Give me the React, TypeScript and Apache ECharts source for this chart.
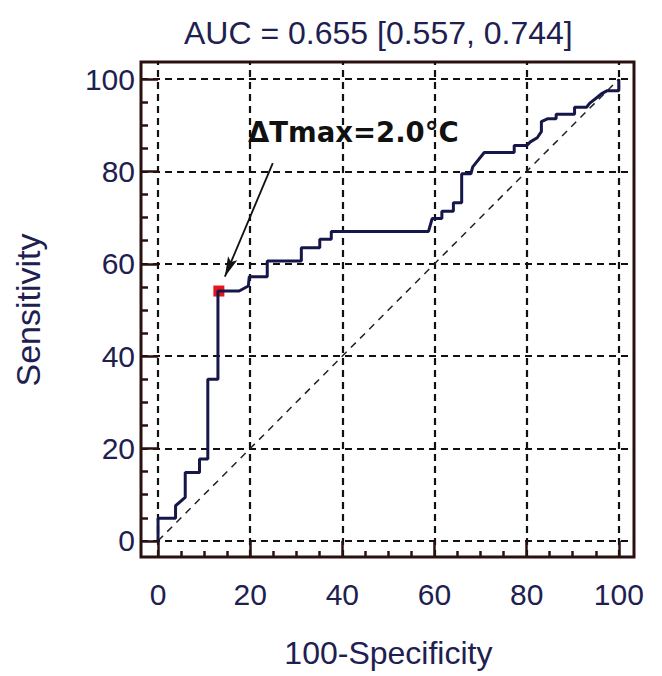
import React, { useEffect, useRef } from "react";
import * as echarts from "echarts";

// ROC curve vertices: 100-Specificity (x) and Sensitivity (y)
const fpr = [0, 0, 3.8, 3.8, 5.9, 5.9, 9.0, 9.0, 10.8, 10.8, 13.0, 13.0, 17.6, 19.6, 19.8, 23.7, 23.7, 31.1, 31.1, 35.1, 35.1, 37.6, 37.6, 58.7, 59.5, 61.6, 61.6, 64.1, 64.1, 65.9, 65.9, 67.9, 68.3, 70.8, 77.3, 77.3, 80.0, 80.8, 82.3, 83.2, 83.2, 84.5, 86.4, 86.4, 90.4, 90.4, 93.0, 93.7, 95.0, 96.2, 97.5, 100, 100];
const tpr = [0, 4.9, 4.9, 7.6, 9.4, 14.8, 14.8, 17.7, 17.7, 35.0, 35.0, 54.1, 54.1, 55.2, 57.2, 57.2, 60.6, 60.6, 63.5, 63.5, 65.3, 65.3, 67.0, 67.0, 69.8, 69.8, 71.4, 71.4, 73.2, 73.2, 79.5, 79.5, 81.0, 84.1, 84.1, 85.6, 85.6, 86.4, 87.3, 88.6, 90.8, 91.4, 91.4, 92.4, 92.4, 93.9, 93.9, 94.8, 95.8, 96.8, 97.5, 97.5, 100];
const diagX = [0, 100];
const diagY = [0, 100];
const cutoffPoint = [13.2, 54.1];
const arrowFrom = [24.9, 81.8];
const arrowTo = [14.5, 57.2];
const gridTicks = [0, 20, 40, 60, 80, 100];
const minorTicks = [5, 10, 15, 25, 30, 35, 45, 50, 55, 65, 70, 75, 85, 90, 95];
const titleText = "AUC = 0.655 [0.557, 0.744]";
const xName = "100-Specificity";
const yName = "Sensitivity";
const annotationText = "ΔTmax=2.0°C";

export default function App() {
  const ref = useRef<HTMLDivElement>(null);
  useEffect(() => {
    const chart = echarts.init(ref.current as HTMLDivElement, null, { renderer: "svg" });
    const F = { left: 141, top: 62, width: 493, height: 495 };
    const xMin = -3.7, xMax = 103.3, yMin = -3.5, yMax = 103.7;
    const px = (v: number) => F.left + ((v - xMin) / (xMax - xMin)) * F.width;
    const py = (v: number) => F.top + F.height - ((v - yMin) / (yMax - yMin)) * F.height;
    const inner = { left: px(0), top: py(100), width: px(100) - px(0), height: py(0) - py(100) };
    const xOff = F.top + F.height - (inner.top + inner.height);
    const yOff = inner.left - F.left;
    const frameColor = "#2b1010";
    const textColor = "#1e2050";
    const font = "'Liberation Sans', Arial, sans-serif";
    const xPerPx = (xMax - xMin) / F.width;
    const yPerPx = (yMax - yMin) / F.height;
    const minorLenPx = 6;

    const gridLineData: any[] = [];
    gridTicks.forEach((v) => {
      gridLineData.push([{ coord: [v, yMin] }, { coord: [v, yMax] }]);
      gridLineData.push([{ coord: [xMin, v] }, { coord: [xMax, v] }]);
    });
    const tickData: any[] = [];
    gridTicks.forEach((v) => {
      tickData.push([{ coord: [v, yMin] }, { coord: [v, 0] }]);
      tickData.push([{ coord: [xMin, v] }, { coord: [0, v] }]);
    });
    minorTicks.forEach((v) => {
      tickData.push([{ coord: [v, yMin] }, { coord: [v, yMin + minorLenPx * yPerPx] }]);
      tickData.push([{ coord: [xMin, v] }, { coord: [xMin + (minorLenPx + 1) * xPerPx, v] }]);
    });

    const option: any = {
      animation: false,
      textStyle: { fontFamily: font },
      title: {
        text: titleText,
        left: 179,
        top: 12,
        textStyle: { fontSize: 32, fontWeight: "normal", color: textColor, fontFamily: font },
      },
      grid: [
        { left: F.left, top: F.top, width: F.width, height: F.height, show: true, borderColor: frameColor, borderWidth: 3, backgroundColor: "transparent" },
        { left: inner.left, top: inner.top, width: inner.width, height: inner.height, show: false },
      ],
      xAxis: [
        { gridIndex: 0, type: "value", min: xMin, max: xMax, show: false },
        {
          gridIndex: 1, type: "value", min: 0, max: 100, interval: 20, position: "bottom", offset: xOff,
          axisLine: { show: false },
          axisTick: { show: false },
          minorTick: { show: false },
          splitLine: { show: false },
          axisLabel: { fontSize: 30, color: textColor, margin: 22, fontFamily: font },
          name: xName, nameLocation: "middle", nameGap: 80,
          nameTextStyle: { fontSize: 32, color: textColor, fontFamily: font },
        },
      ],
      yAxis: [
        { gridIndex: 0, type: "value", min: yMin, max: yMax, show: false },
        {
          gridIndex: 1, type: "value", min: 0, max: 100, interval: 20, position: "left", offset: yOff,
          axisLine: { show: false },
          axisTick: { show: false },
          minorTick: { show: false },
          splitLine: { show: false },
          axisLabel: { fontSize: 30, color: textColor, margin: 6, fontFamily: font },
          name: yName, nameLocation: "middle", nameGap: 96, nameRotate: 90,
          nameTextStyle: { fontSize: 34, color: textColor, fontFamily: font },
        },
      ],
      series: [
        {
          type: "line", xAxisIndex: 0, yAxisIndex: 0, symbol: "none", silent: true, z: 1,
          data: diagX.map((x, i) => [x, diagY[i]]),
          lineStyle: { type: [7, 6], width: 1.5, color: "#222" },
          markLine: {
            silent: true, symbol: ["none", "none"], label: { show: false },
            lineStyle: { type: [7, 5], width: 2.2, color: "#111" },
            data: gridLineData, z: 0,
          },
        },
        {
          type: "line", xAxisIndex: 0, yAxisIndex: 0, symbol: "none", silent: true, z: 2,
          data: [],
          markLine: {
            silent: true, symbol: ["none", "none"], label: { show: false },
            lineStyle: { type: "solid", width: 2.5, color: frameColor },
            data: tickData,
          },
        },
        {
          type: "line", xAxisIndex: 0, yAxisIndex: 0, symbol: "none", z: 5,
          data: fpr.map((x, i) => [x, tpr[i]]),
          lineStyle: { color: "#15174a", width: 3 },
          markPoint: {
            silent: true,
            data: [{ coord: cutoffPoint, symbol: "rect", symbolSize: 11, itemStyle: { color: "#e8141c" }, label: { show: false } }],
          },
          markLine: {
            silent: true, symbol: ["none", "none"], label: { show: false },
            lineStyle: { type: "solid", width: 1.8, color: "#111" },
            data: [[{ coord: arrowFrom }, { coord: arrowTo }]],
          },
        },
      ],
      graphic: [
        {
          id: "annot", type: "text", left: 248, top: 118, z: 10,
          style: { text: annotationText, fontSize: 27.5, fontWeight: "bold", fill: "#111", fontFamily: "'DejaVu Sans', sans-serif" },
        },
      ],
    };
    chart.setOption(option);

    // arrow head at the arrow's tip, placed through the chart's own scales
    const p0 = chart.convertToPixel({ xAxisIndex: 0, yAxisIndex: 0 }, arrowFrom) as number[];
    const p1 = chart.convertToPixel({ xAxisIndex: 0, yAxisIndex: 0 }, arrowTo) as number[];
    const dx = p1[0] - p0[0], dy = p1[1] - p0[1];
    const len = Math.sqrt(dx * dx + dy * dy);
    const ux = dx / len, uy = dy / len;
    const nx = -uy, ny = ux;
    const L = 20, W = 5;
    const bx = p1[0] - ux * L, by = p1[1] - uy * L;
    chart.setOption({
      graphic: [
        {
          id: "arrowHead", type: "polygon", z: 10,
          shape: { points: [[p1[0], p1[1]], [bx + nx * W, by + ny * W], [p1[0] - ux * L * 0.8, p1[1] - uy * L * 0.8], [bx - nx * W, by - ny * W]] },
          style: { fill: "#111" },
        },
      ],
    });
    return () => chart.dispose();
  }, []);
  return <div ref={ref} style={{ position: "absolute", left: 0, top: 0, width: 662, height: 676 }} />;
}
